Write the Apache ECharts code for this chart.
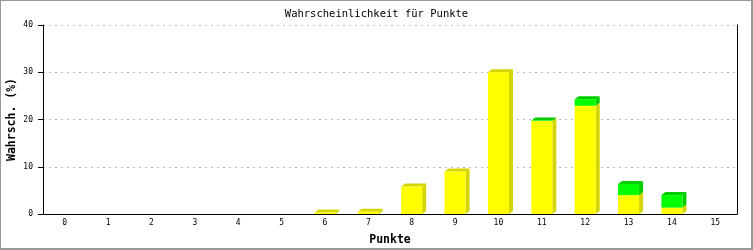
<!DOCTYPE html>
<html><head><meta charset="utf-8">
<script src="https://cdn.jsdelivr.net/npm/echarts@6/dist/echarts.min.js"></script>
<style>
html,body{margin:0;padding:0;background:#fff;}
#c{position:absolute;left:0;top:0;width:753px;height:250px;}
#frame{position:absolute;left:0;top:0;width:753px;height:250px;box-sizing:border-box;border-left:1px solid #999;border-top:1px solid #999;border-right:2px solid #999;border-bottom:2px solid #999;pointer-events:none;}
</style></head>
<body>
<div id="c"></div><div id="frame"></div>
<script>
const categories = ['0','1','2','3','4','5','6','7','8','9','10','11','12','13','14','15'];
const yellowValues = [0,0,0,0,0,0,0.3,0.5,5.8,9.0,30.0,19.7,22.9,4.0,1.35,0];
const greenValues  = [0,0,0,0,0,0,0,0,0,0,0,0.1,1.4,2.35,2.65,0];
const yTicks = [0,10,20,30,40];

const chart = echarts.init(document.getElementById('c'));
const DX = 4, DY = 3;
function makeRender(front, dark, hasTopFn){
  return function(params, api){
    const i = api.value(0), base = api.value(1), top = api.value(2);
    if (!(top > base)) return null;
    const pb = api.coord([i, base]);
    const pt = api.coord([i, top]);
    const w = api.size([1, 0])[0] * 0.485;
    const x0 = pb[0] - w/2, x1 = pb[0] + w/2;
    const yb = pb[1], yt = pt[1];
    const children = [];
    children.push({type:'polygon', shape:{points:[[x1,yt],[x1+DX,yt-DY],[x1+DX,yb-DY],[x1,yb]]}, style:{fill:dark}});
    if (hasTopFn(params.dataIndex)) {
      children.push({type:'polygon', shape:{points:[[x0,yt],[x0+DX,yt-DY],[x1+DX,yt-DY],[x1,yt]]}, style:{fill:dark}});
    }
    children.push({type:'rect', shape:{x:x0, y:yt, width:w, height:yb-yt}, style:{fill:front}});
    return {type:'group', children};
  };
}
const yellowData = yellowValues.map((v,i)=>[i,0,v]);
const greenData = greenValues.map((v,i)=>[i,yellowValues[i],yellowValues[i]+v]);
const mono = 'DejaVu Sans Mono';
chart.setOption({
  animation:false,
  title:{text:'Wahrscheinlichkeit für Punkte', left:'center', top:4,
    textStyle:{fontFamily:mono, fontSize:10.5, fontWeight:'normal', color:'#000'}},
  grid:{left:43, right:16, top:25, bottom:36, containLabel:false, outerBoundsMode:'none'},
  xAxis:{type:'category', data:categories, boundaryGap:true,
    name:'Punkte', nameLocation:'middle', nameGap:20, nameMoveOverlap:false,
    nameTextStyle:{fontFamily:mono, fontSize:11.5, fontWeight:'bold', color:'#000'},
    axisLine:{lineStyle:{color:'#000', width:1}}, axisTick:{show:false},
    axisLabel:{fontFamily:mono, fontSize:8, color:'#000', margin:5}},
  yAxis:[{type:'value', min:0, max:40, interval:10,
    name:'Wahrsch. (%)', nameLocation:'middle', nameGap:25, nameMoveOverlap:false,
    nameTextStyle:{fontFamily:mono, fontSize:11.5, fontWeight:'bold', color:'#000'},
    axisLine:{show:true, lineStyle:{color:'#000', width:1}},
    axisTick:{show:true, length:5, lineStyle:{color:'#000'}},
    axisLabel:{fontFamily:mono, fontSize:8, color:'#000', margin:10,
      formatter:v=> yTicks.includes(v) ? String(v) : ''},
    splitLine:{show:true, lineStyle:{color:'#bbb', type:[2,4], width:1}}},
   {type:'value', min:0, max:40, interval:10, position:'right',
    axisLine:{show:true, lineStyle:{color:'#000', width:1}},
    axisTick:{show:false}, axisLabel:{show:false}, splitLine:{show:false}}],
  series:[
    {type:'custom', renderItem:makeRender('#ffff00','#d4d400', i=>!(greenValues[i]>0)), data:yellowData, encode:{x:0,y:2}},
    {type:'custom', renderItem:makeRender('#00ff00','#00cc00', i=>true), data:greenData, encode:{x:0,y:2}}
  ]
});
</script>
</body></html>
